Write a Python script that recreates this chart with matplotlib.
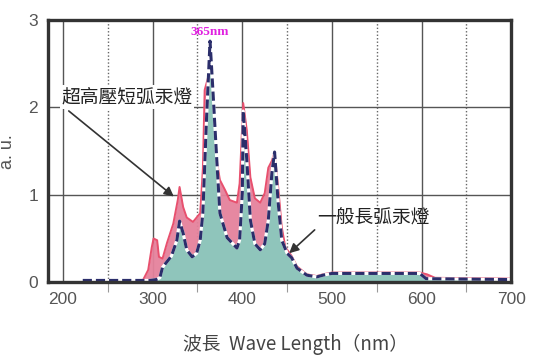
import matplotlib
matplotlib.use("Agg")
import matplotlib.pyplot as plt

plt.rcParams["font.family"] = ["Liberation Sans", "Noto Sans CJK TC", "DejaVu Sans"]

# long arc lamp (teal, dashed outline)
wl_long = [222, 297, 304, 308, 311, 321, 327, 330, 334, 338, 344, 349, 353, 356,
           360, 364, 367, 372, 375, 383, 394, 397, 400, 401, 405, 409, 414, 420,
           425, 429, 433, 436, 440, 444, 450, 455, 461, 472, 483, 490, 500, 550,
           598, 605, 700]
val_long = [0.02, 0.02, 0.03, 0.05, 0.17, 0.30, 0.48, 0.70, 0.56, 0.37, 0.29, 0.33,
            0.48, 0.79, 1.85, 2.76, 2.23, 1.31, 0.79, 0.51, 0.39, 0.48, 1.02, 1.96,
            1.40, 0.71, 0.44, 0.37, 0.44, 0.71, 1.25, 1.49, 0.91, 0.48, 0.33, 0.28,
            0.16, 0.08, 0.06, 0.08, 0.10, 0.10, 0.10, 0.04, 0.03]

# ultra high pressure short arc lamp (pink)
wl_short = [289, 295, 299, 301, 305, 307, 311, 316, 323, 328, 330, 334, 338, 345,
            353, 356, 358, 362, 365, 368, 372, 375, 381, 386, 394, 397, 401, 405,
            409, 414, 420, 425, 429, 433, 436, 440, 444, 448, 455, 461, 472, 483,
            490, 500, 550, 598, 606, 615, 700]
val_short = [0.02, 0.14, 0.40, 0.50, 0.48, 0.29, 0.27, 0.45, 0.67, 0.94, 1.09, 0.86,
             0.74, 0.69, 0.79, 1.30, 2.20, 2.35, 2.30, 1.80, 1.36, 1.17, 1.05, 0.94,
             0.91, 1.13, 2.05, 1.74, 1.20, 0.96, 0.91, 1.02, 1.31, 1.39, 1.49, 1.09,
             0.63, 0.40, 0.30, 0.18, 0.09, 0.07, 0.09, 0.11, 0.11, 0.11, 0.09, 0.05,
             0.04]

xticks = [200, 300, 400, 500, 600, 700]
xminor = [250, 350, 450, 550, 650]
yticks = [0, 1, 2, 3]

fig = plt.figure(figsize=(5.37, 3.59), dpi=100)
ax = fig.add_axes([0.089, 0.214, 0.863, 0.730])

ax.set_xlim(183, 700)
ax.set_ylim(0, 3)

# grid
for x in xticks[:-1]:
    ax.axvline(x, color="#555555", lw=1.0, zorder=1)
for x in xminor:
    ax.axvline(x, color="#666666", lw=1.0, ls=(0, (1, 1.5)), zorder=1)
for y in [1, 2]:
    ax.axhline(y, color="#555555", lw=1.0, zorder=1)

ax.fill_between(wl_short, val_short, 0, color="#e5829c", alpha=0.95, lw=0, zorder=2)
ax.plot(wl_short, val_short, color="#e8506e", lw=1.4, zorder=3)
ax.fill_between(wl_long, val_long, 0, color="#8fc5bb", lw=0, zorder=4)
ax.plot(wl_long, val_long, color="white", lw=2.2, zorder=5, solid_capstyle="butt")
ax.plot(wl_long, val_long, color="#2b2e6b", lw=2.2, ls=(0, (3, 1.3)), zorder=6)

ax.set_xticks(xticks)
ax.set_yticks(yticks)
ax.set_xticks(xminor, minor=True)
ax.tick_params(axis="both", which="major", length=0, pad=7, labelsize=12.5,
               labelcolor="#555555")
ax.tick_params(axis="x", which="minor", length=7, width=0.8, color="#999999")
for s in ax.spines.values():
    s.set_linewidth(2.4)
    s.set_color("#333333")
    s.set_zorder(8)

ax.set_ylabel("a. u.", fontsize=13, color="#555555")
ax.yaxis.set_label_coords(-0.068, 0.5)

ax.text(364, 2.86, "365nm", color="#e020e0", fontsize=9.5, fontweight="bold",
        family="Liberation Serif", ha="center", va="center", zorder=9)

ax.text(271, 2.12, "超高壓短弧汞燈", fontsize=13.5, color="#222222", ha="center",
        va="center", family=["Noto Sans CJK TC", "DejaVu Sans"], zorder=9,
        bbox=dict(facecolor="white", edgecolor="none", pad=1))
ax.annotate("", xy=(326, 0.96), xytext=(204, 1.98),
            arrowprops=dict(arrowstyle="-|>", color="#333333", lw=1.2,
                            mutation_scale=14), zorder=9)

ax.text(546, 0.73, "一般長弧汞燈", fontsize=13.5, color="#222222", ha="center",
        va="center", family=["Noto Sans CJK TC", "DejaVu Sans"], zorder=9)
ax.annotate("", xy=(450, 0.31), xytext=(483, 0.62),
            arrowprops=dict(arrowstyle="-|>", color="#333333", lw=1.2,
                            mutation_scale=14), zorder=9)

fig.text(0.55, 0.04, "波長  Wave Length（nm）", fontsize=13.5, color="#444444",
         ha="center", va="center", family=["Noto Sans CJK TC", "DejaVu Sans"])

fig.savefig("out.png", dpi=100)
